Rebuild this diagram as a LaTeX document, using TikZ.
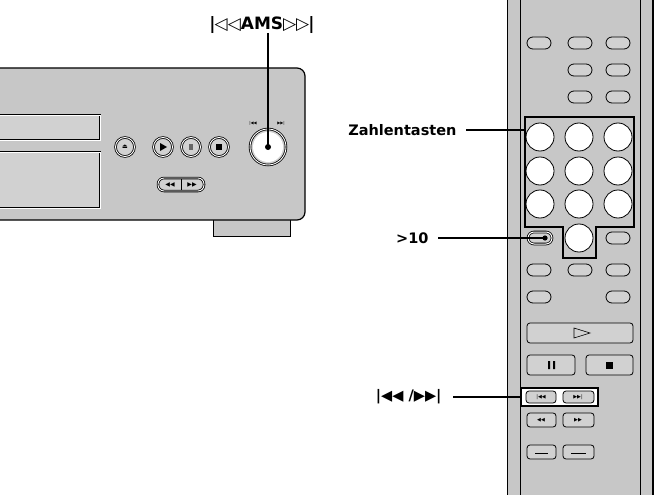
\documentclass[tikz,border=0pt]{standalone}
\usepackage{fontspec}
\setmainfont{DejaVu Sans}
\begin{document}
\begin{tikzpicture}
  [
    x = 1pt, y = -1pt,
    body/.style    = {draw, line width=1.2pt, fill=black!22},
    knob/.style    = {draw, line width=0.8pt, fill=black!18, double=white, double distance=0.9pt},
    oval/.style    = {draw, line width=0.8pt, fill=black!18, rounded corners=6pt},
    key/.style     = {draw, line width=0.8pt, fill=white},
    pad/.style     = {draw, line width=0.8pt, fill=black!18, rounded corners=3pt},
    frame/.style   = {draw, line width=1.6pt},
    lead/.style    = {line width=1.3pt},
    every node/.style = {font=\bfseries\fontsize{14.5}{16}\selectfont}
  ]
  \useasboundingbox (0,0) rectangle (659,495);
  % player
  \draw[line width=1pt, fill=black!22] (213,215) rectangle (290,236);
  \path[body] (-5,68) -- (297,68) arc (-90:0:8) -- (305,212) arc (0:90:8) -- (-5,220) -- cycle;
  \draw[line width=0.8pt, double=white, double distance=0.8pt, fill=black!18] (-5,115) rectangle (100,140);
  \draw[line width=0.8pt, double=white, double distance=0.8pt, fill=black!18] (-5,152) rectangle (100,208);
  \foreach \cx in {125,163,191,219}
    \path[knob] (\cx,147) circle (9.5);
  \node[font=\fontsize{6}{6}\selectfont] (eject) at (125,147) {⏏};
  \fill (160,143) -- (167,147) -- (160,151) -- cycle;
  \fill[black!60] (189,144) rectangle (193,150);
  \fill (216,144) rectangle (222,150);
  \path[knob, rounded corners=6pt] (158,178) rectangle (204,191);
  \draw[line width=0.7pt] (181,179) -- (181,190);
  \node[font=\fontsize{6}{6}\selectfont] (rew) at (170,184.5) {◀◀};
  \node[font=\fontsize{6}{6}\selectfont] (ff) at (192,184.5) {▶▶};
  \path[knob] (268,147) circle (18);
  \fill[white] (268,147) circle (15);
  \node[font=\fontsize{4}{4}\selectfont] (prv) at (253,123) {|◀◀};
  \node[font=\fontsize{4}{4}\selectfont] (nxt) at (281,123) {▶▶|};
  \node[font=\bfseries\fontsize{17}{18}\selectfont] (ams) at (262,25) {|\kern-1pt◁◁AMS▷▷\kern-1pt|};
  \coordinate (amsknob) at (268,147);
  \draw[lead] (268,33) -- (amsknob);
  \fill (amsknob) circle (3);
  % remote
  \fill[black!22] (507,-1) rectangle (653,496);
  \draw[line width=0.8pt] (507,-1) -- (507,496) (520,-1) -- (520,496) (640,-1) -- (640,496);
  \draw[line width=2.6pt] (653,-1) -- (653,496);
  \foreach \cx/\cy in {539/43,580/43,618/43,580/70,618/70,580/97,618/97,
                       618/238,539/270,580/270,618/270,539/297,618/297}
    \path[oval] (\cx-12,\cy-6) rectangle (\cx+12,\cy+6);
  \fill[black!22] (525,117) -- (634,117) -- (634,227) -- (596,227) -- (596,258) -- (563,258) -- (563,227) -- (525,227) -- cycle;
  \foreach \cx in {540,579,618}
    \foreach \cy in {137,171,204}
      \path[key] (\cx,\cy) circle (14);
  \path[key] (579,238) circle (14);
  \draw[frame] (525,117) -- (634,117) -- (634,227) -- (596,227) -- (596,258) -- (563,258) -- (563,227) -- (525,227) -- cycle;
  \path[oval, double=white, double distance=1pt] (528,232) rectangle (552,244);
  \coordinate (ten) at (545,238);
  \fill (ten) circle (2.6);
  \path[pad] (527,323) rectangle (633,343);
  \draw[line width=0.6pt] (574,328) -- (590,333) -- (574,338) -- cycle;
  \path[pad] (527,355) rectangle (575,375);
  \path[pad] (586,355) rectangle (633,375);
  \fill (548,361) rectangle (550,369) (553,361) rectangle (555,369);
  \fill (606,362) rectangle (613,369);
  \fill[white] (521,388) rectangle (598,406);
  \path[pad] (526,391) rectangle (556,403);
  \path[pad] (563,391) rectangle (594,403);
  \draw[frame] (521,388) rectangle (598,406);
  \node[font=\fontsize{5}{5}\selectfont] (prev) at (541,397) {|◀◀};
  \node[font=\fontsize{5}{5}\selectfont] (next) at (578,397) {▶▶|};
  \path[pad] (527,413) rectangle (556,427);
  \path[pad] (563,413) rectangle (594,427);
  \node[font=\fontsize{5}{5}\selectfont] (rrew) at (541,420) {◀◀};
  \node[font=\fontsize{5}{5}\selectfont] (rff) at (578,420) {▶▶};
  \path[pad] (527,445) rectangle (556,459);
  \path[pad] (563,445) rectangle (594,459);
  \draw[line width=0.9pt] (535,453) -- (548,453) (571,453) -- (586,453);
  % labels
  \node[anchor=east] (zahl) at (460,130) {Zahlentasten};
  \coordinate (grid) at (525,130);
  \draw[lead] (zahl.east) ++(6,0) -- (grid);
  \node[anchor=east] (gt) at (432,238) {>10};
  \draw[lead] (gt.east) ++(6,0) -- (ten);
  \node[anchor=east] (skip) at (445,397) {|◀◀ /▶▶|};
  \coordinate (skipbox) at (521,397);
  \draw[lead] (skip.east) ++(8,0) -- (skipbox);
\end{tikzpicture}
\end{document}
